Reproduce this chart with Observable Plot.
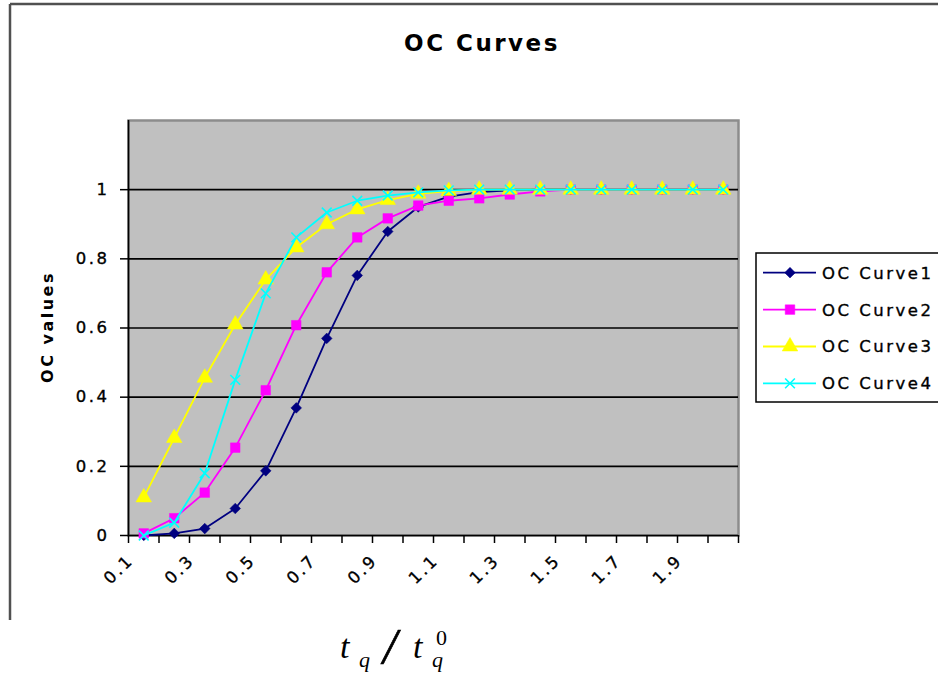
<!DOCTYPE html>
<html><head><meta charset="utf-8">
<script src="https://cdn.jsdelivr.net/npm/d3@7"></script>
<script src="https://cdn.jsdelivr.net/npm/@observablehq/plot@0.6"></script>
<style>
body{margin:0;background:#fff}
svg text{letter-spacing:2.5px}
</style>
</head><body><div id="chart"></div>
<script>
const cats = [0.1,0.2,0.3,0.4,0.5,0.6,0.7,0.8,0.9,1.0,1.1,1.2,1.3,1.4,1.5,1.6,1.7,1.8,1.9,2.0];
const labelCats = [0.1,0.3,0.5,0.7,0.9,1.1,1.3,1.5,1.7,1.9];
const yTicks = [0,0.2,0.4,0.6,0.8,1];
const names = ["OC Curve1","OC Curve2","OC Curve3","OC Curve4"];
const colors = ["#000080","#ff00ff","#ffff00","#00ffff"];
const symbols = ["diamond2","square","triangle","times"];
const curve1 = [0.0,0.006,0.02,0.078,0.187,0.369,0.57,0.752,0.879,0.95,0.98,0.993,0.998,1,1,1,1,1,1,1];
const curve2 = [0.006,0.05,0.124,0.254,0.42,0.608,0.761,0.862,0.917,0.954,0.968,0.975,0.986,0.995,1,1,1,1,1,1];
const curve3 = [0.11,0.282,0.456,0.61,0.74,0.833,0.9,0.943,0.97,0.988,0.996,1,1,1,1,1,1,1,1,1];
const curve4 = [0.0,0.037,0.18,0.45,0.70,0.862,0.934,0.968,0.983,0.992,0.998,1,1,1,1,1,1,1,1,1];
const allCurves = [curve1,curve2,curve3,curve4];
const radii = [4.8,5.4,5.8,4.5];

const series = names.map((name,k)=>({name, values: allCurves[k], color: colors[k], symbol: symbols[k], r: radii[k]}));
const step = cats[1]-cats[0];
const bounds = d3.range(cats.length+1).map(i => cats[0] - step/2 + i*step);
const xDomain = [bounds[0], bounds[bounds.length-1]];

const chart = Plot.plot({
  width: 938, height: 675,
  marginLeft: 128, marginRight: 200, marginTop: 120, marginBottom: 140,
  x: {type: "linear", domain: xDomain},
  y: {domain: [0, 1.2]},
  style: {fontFamily: "DejaVu Sans", fontSize: "16.5px", background: "white", color: "black"},
  marks: [
    Plot.frame({fill: "#c0c0c0", stroke: "#8c8c8c", strokeWidth: 2.5}),
    Plot.ruleY(yTicks.filter(d => d > 0), {stroke: "black", strokeWidth: 1.6}),
    Plot.ruleX([xDomain[0]], {stroke: "black", strokeWidth: 1.6}),
    Plot.ruleY([0], {stroke: "black", strokeWidth: 1.6}),
    Plot.axisY({ticks: yTicks, tickSize: 8, tickPadding: 11, fontSize: 16.5, label: null, strokeWidth: 1.5, tickFormat: d => String(d)}),
    Plot.axisX({ticks: bounds, tickSize: 8, tickFormat: () => "", label: null, strokeWidth: 1.5}),
    Plot.text(labelCats, {x: d => d, frameAnchor: "bottom", dx: -13, dy: 22, rotate: -45, textAnchor: "end", lineAnchor: "middle", text: d => d.toFixed(1), fontSize: 16.5}),
    ...series.flatMap(s => [
      Plot.line(s.values, {x: (d,i) => cats[i], y: d => d, stroke: s.color, strokeWidth: 1.8}),
      Plot.dot(s.values, {x: (d,i) => cats[i], y: d => d, symbol: () => s.symbol, r: s.r,
        fill: s.symbol === "times" ? "none" : s.color, stroke: s.color, strokeWidth: s.symbol === "times" ? 1.6 : 0.5})
    ])
  ]
});
document.getElementById("chart").appendChild(chart);

const svg = d3.select(chart);
// heavier tick text like the bitmap reference
svg.selectAll("text").attr("stroke","black").attr("stroke-width",0.35);

// outer chart-area border (cropped)
svg.append("line").attr("x1",10).attr("y1",4).attr("x2",938).attr("y2",4).attr("stroke","#505050").attr("stroke-width",2.5);
svg.append("line").attr("x1",10).attr("y1",4).attr("x2",10).attr("y2",620).attr("stroke","#505050").attr("stroke-width",2.5);

// title
svg.append("text").attr("x",482).attr("y",51).attr("text-anchor","middle")
  .attr("font-size",23).attr("font-weight","bold").attr("letter-spacing","2px").text("OC Curves");
// y label
svg.append("text").attr("transform","translate(48,327) rotate(-90)").attr("text-anchor","middle")
  .attr("dominant-baseline","middle").attr("font-size",16).attr("font-weight","bold").text("OC values");

// legend
const lg = svg.append("g").attr("text-anchor","start");
lg.append("rect").attr("x",756).attr("y",253).attr("width",200).attr("height",149)
  .attr("fill","white").attr("stroke","black").attr("stroke-width",1.5);
const symMap = {diamond2: d3.symbolDiamond2, square: d3.symbolSquare, triangle: d3.symbolTriangle, times: d3.symbolTimes};
series.forEach((s,k) => {
  const y = 272.7 + k*36.9;
  lg.append("line").attr("x1",763).attr("x2",816).attr("y1",y).attr("y2",y).attr("stroke",s.color).attr("stroke-width",1.8);
  lg.append("path").attr("transform",`translate(790,${y})`)
    .attr("d", d3.symbol(symMap[s.symbol], Math.PI*s.r*s.r)())
    .attr("fill", s.symbol === "times" ? "none" : s.color).attr("stroke", s.color)
    .attr("stroke-width", s.symbol === "times" ? 1.6 : 0.5);
  lg.append("text").attr("x",822).attr("y",y).attr("dy","0.36em").attr("font-size",16.5)
    .attr("stroke","black").attr("stroke-width",0.35).text(s.name);
});

// x axis label (formula)
const eq = svg.append("g").attr("font-family","Liberation Serif").attr("letter-spacing","0px").attr("text-anchor","start");
eq.append("text").attr("x",340).attr("y",658).attr("font-size",34).attr("font-style","italic").text("t");
eq.append("text").attr("x",359).attr("y",667).attr("font-size",22).attr("font-style","italic").text("q");
eq.append("text").attr("x",383).attr("y",663).attr("font-size",50).attr("font-style","italic").attr("stroke","black").attr("stroke-width",0.6).text("/");
eq.append("text").attr("x",413).attr("y",658).attr("font-size",34).attr("font-style","italic").text("t");
eq.append("text").attr("x",436).attr("y",645).attr("font-size",22).text("0");
eq.append("text").attr("x",432).attr("y",667).attr("font-size",22).attr("font-style","italic").text("q");
</script></body></html>
